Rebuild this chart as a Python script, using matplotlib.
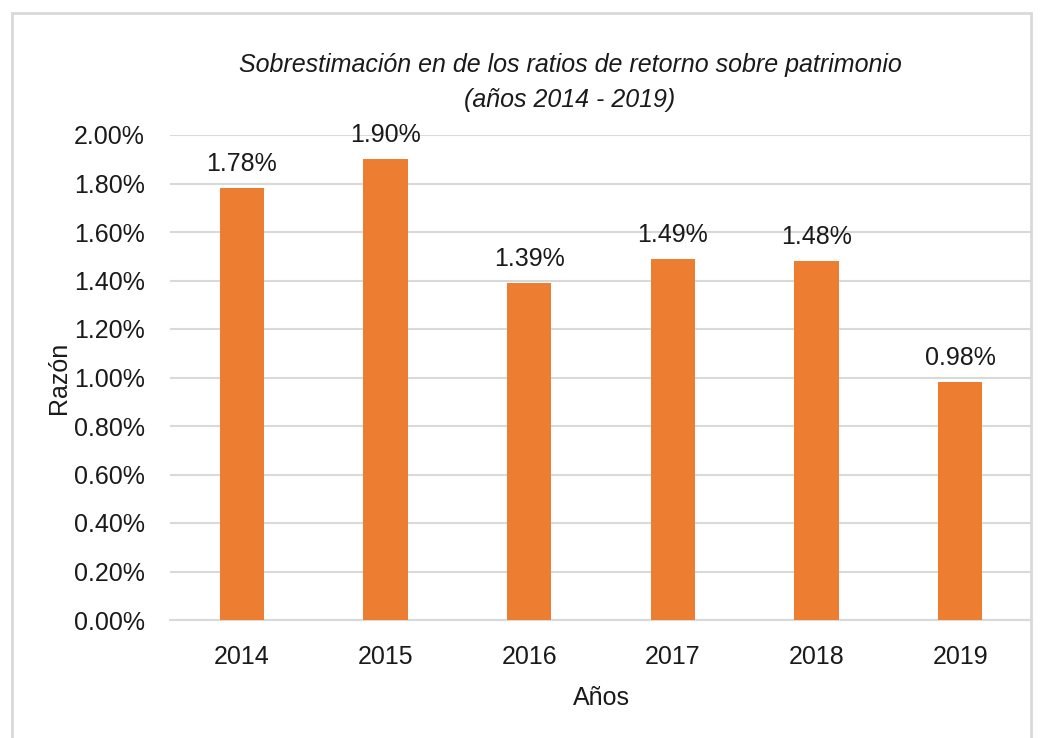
import matplotlib
matplotlib.use("Agg")
import matplotlib.pyplot as plt
from matplotlib.patches import Rectangle
from matplotlib.ticker import FuncFormatter

plt.rcParams['font.family'] = ['Liberation Sans', 'DejaVu Sans']

# data
years = ["2014", "2015", "2016", "2017", "2018", "2019"]
ratios = [1.78, 1.90, 1.39, 1.49, 1.48, 0.98]
yticks = [0.0, 0.2, 0.4, 0.6, 0.8, 1.0, 1.2, 1.4, 1.6, 1.8, 2.0]

W, H = 1042, 738
FS = 18
TXT = "#1a1a1a"
fig = plt.figure(figsize=(W / 100, H / 100), dpi=100)
fig.patch.set_facecolor("white")

# outer chart border (light gray, bottom cut off)
fig.patches.append(Rectangle((12 / W, -0.05), (1031 - 12) / W, 1.05 - 13 / H,
                             transform=fig.transFigure, fill=False,
                             edgecolor="#D9D9D9", linewidth=2))

ax = fig.add_axes([170 / W, 1 - 620 / H, (1032 - 170) / W, (620 - 135) / H])
x = range(len(years))
ax.bar(x, ratios, width=0.31, color="#ED7D31", zorder=3)
for xi, v in zip(x, ratios):
    ax.text(xi, v + 0.05, f"{v:.2f}%", ha="center", va="bottom", fontsize=FS, color=TXT)

ax.set_xlim(-0.5, len(years) - 0.5)
ax.set_ylim(0, 2.0)
ax.set_yticks(yticks)
ax.yaxis.set_major_formatter(FuncFormatter(lambda v, p: f"{v:.2f}%"))
ax.set_xticks(list(x))
ax.set_xticklabels(years)
ax.tick_params(axis="both", length=0, labelsize=FS, colors=TXT)
ax.tick_params(axis="y", pad=18)
ax.tick_params(axis="x", pad=18)
ax.grid(axis="y", color="#D9D9D9", linewidth=1.5, zorder=0)
for s in ["top", "right", "left"]:
    ax.spines[s].set_visible(False)
ax.spines["bottom"].set_color("#D9D9D9")
ax.spines["bottom"].set_linewidth(1.5)

ax.set_ylabel("Razón", fontsize=FS, color=TXT, labelpad=2)
ax.set_xlabel("Años", fontsize=FS, color=TXT, labelpad=12)

fig.text(570 / W, 1 - 65 / H, "Sobrestimación en de los ratios de retorno sobre patrimonio",
         ha="center", va="center", fontsize=FS, style="italic", color=TXT)
fig.text(570 / W, 1 - 100 / H, "(años 2014 - 2019)",
         ha="center", va="center", fontsize=FS, style="italic", color=TXT)

fig.savefig("out.png", dpi=100, facecolor="white")
